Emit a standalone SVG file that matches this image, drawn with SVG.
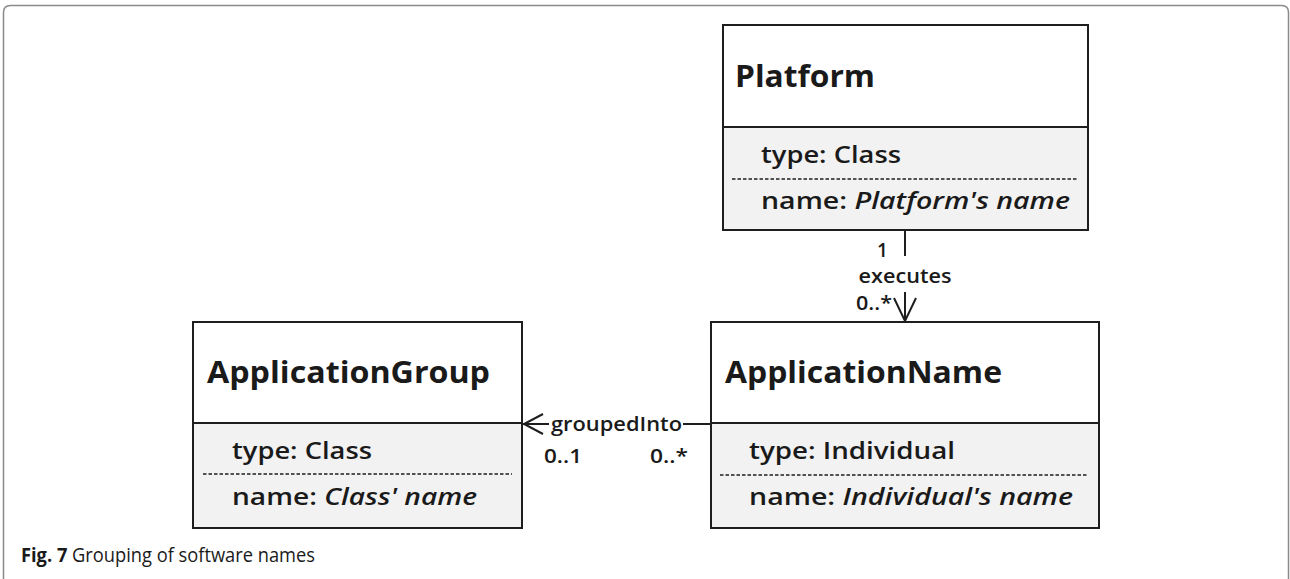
<svg xmlns="http://www.w3.org/2000/svg" width="1290" height="579" viewBox="0 0 1290 579">
<style>
.box{stroke:#1e1e1e;stroke-width:2}
.hdr{fill:#ffffff}
.cmp{fill:#f2f2f2}
.dash{stroke:#1e1e1e;stroke-width:1.5;stroke-dasharray:3.5 2}
.title{font-family:"Open Sans","Liberation Sans",sans-serif;font-weight:bold;font-size:31px;fill:#1a1a1a}
.attr{font-family:"Open Sans","Liberation Sans",sans-serif;font-weight:600;font-size:23px;fill:#1a1a1a}
.lbl{font-family:"Open Sans","Liberation Sans",sans-serif;font-weight:600;font-size:19px;fill:#1a1a1a}
.edge{stroke:#1e1e1e;stroke-width:2;fill:none}
.cap{font-family:"Open Sans","Liberation Sans",sans-serif;font-size:20px;fill:#1a1a1a}
</style>
<rect width="1290" height="579" fill="#ffffff"/>
<path d="M3.5,579 V12.5 Q3.5,5.5 10.5,5.5 H1281.5 Q1288.5,5.5 1288.5,12.5 V579" fill="none" stroke="#8a8a8a" stroke-width="1.5"/>

<g id="platform">
<rect class="box hdr" x="723" y="25" width="365" height="102"/>
<rect class="box cmp" x="723" y="127" width="365" height="103"/>
<line class="dash" x1="732" y1="179" x2="1078" y2="179"/>
<text class="title" x="735" y="87" textLength="140" lengthAdjust="spacingAndGlyphs">Platform</text>
<text class="attr" x="761" y="163" textLength="140" lengthAdjust="spacingAndGlyphs">type: Class</text>
<text class="attr" x="761" y="209" textLength="309" lengthAdjust="spacingAndGlyphs">name: <tspan font-style="italic">Platform's name</tspan></text>
</g>

<g id="applicationGroup">
<rect class="box hdr" x="193" y="322" width="329" height="101"/>
<rect class="box cmp" x="193" y="423" width="329" height="105"/>
<line class="dash" x1="203" y1="474" x2="512" y2="474"/>
<text class="title" x="207" y="383" textLength="283" lengthAdjust="spacingAndGlyphs">ApplicationGroup</text>
<text class="attr" x="232" y="459" textLength="140" lengthAdjust="spacingAndGlyphs">type: Class</text>
<text class="attr" x="232" y="505" textLength="245" lengthAdjust="spacingAndGlyphs">name: <tspan font-style="italic">Class' name</tspan></text>
</g>

<g id="applicationName">
<rect class="box hdr" x="711" y="322" width="388" height="101"/>
<rect class="box cmp" x="711" y="423" width="388" height="105"/>
<line class="dash" x1="720" y1="475" x2="1088" y2="475"/>
<text class="title" x="725" y="383" textLength="277" lengthAdjust="spacingAndGlyphs">ApplicationName</text>
<text class="attr" x="749" y="459" textLength="206" lengthAdjust="spacingAndGlyphs">type: Individual</text>
<text class="attr" x="749" y="505" textLength="324" lengthAdjust="spacingAndGlyphs">name: <tspan font-style="italic">Individual's name</tspan></text>
</g>

<g id="connectors">
<g id="executes">
<line class="edge" x1="905" y1="230" x2="905" y2="256"/>
<line class="edge" x1="905" y1="292" x2="905" y2="322"/>
<polyline class="edge" points="894,298 905,321 916,298"/>
<text class="lbl" x="877" y="257" font-weight="bold">1</text>
<text class="lbl" x="905" y="283" text-anchor="middle" textLength="93" lengthAdjust="spacingAndGlyphs">executes</text>
<text class="lbl" x="856" y="310" textLength="36" lengthAdjust="spacingAndGlyphs">0..*</text>
</g>
<g id="groupedInto">
<line class="edge" x1="523" y1="424" x2="549" y2="424"/>
<line class="edge" x1="683" y1="424" x2="711" y2="424"/>
<polyline class="edge" points="543,414 524,424 543,434"/>
<text class="lbl" x="551" y="431" textLength="131" lengthAdjust="spacingAndGlyphs">groupedInto</text>
<text class="lbl" x="544" y="463" textLength="38" lengthAdjust="spacingAndGlyphs">0..1</text>
<text class="lbl" x="650" y="463" textLength="38" lengthAdjust="spacingAndGlyphs">0..*</text>
</g>
</g>

<text class="cap" x="21" y="562" textLength="294" lengthAdjust="spacingAndGlyphs"><tspan font-weight="bold">Fig. 7</tspan> Grouping of software names</text>
</svg>
